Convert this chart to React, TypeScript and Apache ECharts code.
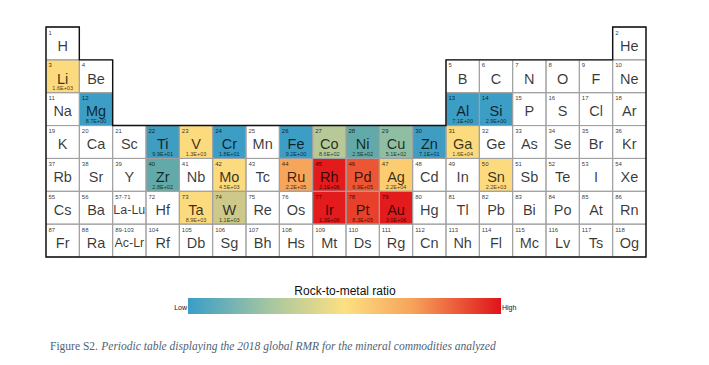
import React, { useEffect, useRef } from 'react';
import * as echarts from 'echarts';

// Periodic table layout (7 periods x 18 groups); '' = empty position
const tableSymbols: string[][] = [
  ['H', '', '', '', '', '', '', '', '', '', '', '', '', '', '', '', '', 'He'],
  ['Li', 'Be', '', '', '', '', '', '', '', '', '', '', 'B', 'C', 'N', 'O', 'F', 'Ne'],
  ['Na', 'Mg', '', '', '', '', '', '', '', '', '', '', 'Al', 'Si', 'P', 'S', 'Cl', 'Ar'],
  ['K', 'Ca', 'Sc', 'Ti', 'V', 'Cr', 'Mn', 'Fe', 'Co', 'Ni', 'Cu', 'Zn', 'Ga', 'Ge', 'As', 'Se', 'Br', 'Kr'],
  ['Rb', 'Sr', 'Y', 'Zr', 'Nb', 'Mo', 'Tc', 'Ru', 'Rh', 'Pd', 'Ag', 'Cd', 'In', 'Sn', 'Sb', 'Te', 'I', 'Xe'],
  ['Cs', 'Ba', 'La-Lu', 'Hf', 'Ta', 'W', 'Re', 'Os', 'Ir', 'Pt', 'Au', 'Hg', 'Tl', 'Pb', 'Bi', 'Po', 'At', 'Rn'],
  ['Fr', 'Ra', 'Ac-Lr', 'Rf', 'Db', 'Sg', 'Bh', 'Hs', 'Mt', 'Ds', 'Rg', 'Cn', 'Nh', 'Fl', 'Mc', 'Lv', 'Ts', 'Og'],
];

const tableNumbers: string[][] = [
  ['1', '', '', '', '', '', '', '', '', '', '', '', '', '', '', '', '', '2'],
  ['3', '4', '', '', '', '', '', '', '', '', '', '', '5', '6', '7', '8', '9', '10'],
  ['11', '12', '', '', '', '', '', '', '', '', '', '', '13', '14', '15', '16', '17', '18'],
  ['19', '20', '21', '22', '23', '24', '25', '26', '27', '28', '29', '30', '31', '32', '33', '34', '35', '36'],
  ['37', '38', '39', '40', '41', '42', '43', '44', '45', '46', '47', '48', '49', '50', '51', '52', '53', '54'],
  ['55', '56', '57-71', '72', '73', '74', '75', '76', '77', '78', '79', '80', '81', '82', '83', '84', '85', '86'],
  ['87', '88', '89-103', '104', '105', '106', '107', '108', '109', '110', '111', '112', '113', '114', '115', '116', '117', '118'],
];

// 2018 global rock-to-metal ratio (RMR)
const rmrElements = ['Li', 'Mg', 'Al', 'Si', 'Ti', 'V', 'Cr', 'Fe', 'Co', 'Ni', 'Cu', 'Zn', 'Ga', 'Zr', 'Mo', 'Ru', 'Rh', 'Pd', 'Ag', 'Sn', 'Ta', 'W', 'Ir', 'Pt', 'Au'];
const rmrValues = [1.6e3, 8.7e0, 7.1e0, 2.9e0, 9.9e1, 1.3e3, 1.8e1, 9.2e0, 8.6e2, 2.5e2, 5.1e2, 7.1e1, 1.6e4, 2.8e2, 4.5e3, 2.2e5, 2.1e6, 6.9e5, 2.2e4, 2.2e3, 8.9e3, 1.1e3, 1.3e6, 8.3e5, 3.0e6];

// colour scale on log10(RMR): break points and colours
const scaleBreaks = [1.5, 2.2, 2.6, 2.85, 3.0, 3.08, 4.3, 5.0, 5.6, 5.9, 6.0];
const scaleColors = ['#3c9dc5', '#3f9dc1', '#62aaa9', '#8fbea2', '#b7c996', '#ccc98a', '#fcda7e', '#fccd70', '#f6a55a', '#ec5634', '#e9402c', '#e31b1c'];

const legendStops = ['#3b9dc8', '#a9c7a0', '#fde082', '#f6a259', '#e0131a'];
const legendOffsets = [0, 0.27, 0.5, 0.72, 1];

// table outline (in grid units: group, period)
const outline: number[][] = [[0, 0], [1, 0], [1, 1], [2, 1], [2, 3], [12, 3], [12, 1], [17, 1], [17, 0], [18, 0], [18, 7], [0, 7]];

function fmtExp(v: number): string {
  const [m, e] = v.toExponential(1).split('e');
  const sign = e[0] === '-' ? '-' : '+';
  const digits = e.replace(/[+-]/, '').padStart(2, '0');
  return `${m}E${sign}${digits}`;
}

export default function App() {
  const ref = useRef<HTMLDivElement>(null);
  useEffect(() => {
    if (!ref.current) return;
    const chart = echarts.init(ref.current, undefined, { renderer: 'svg' });

    const cells: { col: number; row: number; sym: string; num: string; val: number | null }[] = [];
    tableSymbols.forEach((rowArr, r) => {
      rowArr.forEach((sym, c) => {
        if (!sym) return;
        const idx = rmrElements.indexOf(sym);
        cells.push({ col: c, row: r, sym, num: tableNumbers[r][c], val: idx >= 0 ? rmrValues[idx] : null });
      });
    });
    const colored = cells.filter((d) => d.val !== null);

    const pieces: any[] = scaleColors.map((color, i) => {
      const p: any = { color };
      if (i > 0) p.gte = scaleBreaks[i - 1];
      if (i < scaleBreaks.length) p.lt = scaleBreaks[i];
      return p;
    });

    const font = '"Liberation Sans", Arial, sans-serif';
    const serif = '"Liberation Serif", "Times New Roman", serif';

    chart.setOption({
      animation: false,
      grid: { left: 46, top: 27, width: 600, height: 230 },
      xAxis: { type: 'value', min: 0, max: 18, show: false },
      yAxis: { type: 'value', min: 0, max: 7, inverse: true, show: false },
      visualMap: {
        type: 'piecewise',
        show: false,
        seriesIndex: 0,
        dimension: 2,
        pieces,
      },
      series: [
        {
          type: 'custom',
          silent: true,
          data: colored.map((d) => [d.col, d.row, Math.log10(d.val as number)]),
          renderItem: (params: any, api: any) => {
            const c = api.value(0);
            const r = api.value(1);
            const p0 = api.coord([c, r]);
            const p1 = api.coord([c + 1, r + 1]);
            return {
              type: 'rect',
              shape: { x: p0[0], y: p0[1], width: p1[0] - p0[0], height: p1[1] - p0[1] },
              style: { fill: api.visual('color'), stroke: 'none' },
            };
          },
        },
        {
          type: 'custom',
          silent: true,
          data: cells.map((d) => [d.col, d.row]),
          renderItem: (params: any, api: any) => {
            const d = cells[params.dataIndex];
            const c = api.value(0);
            const r = api.value(1);
            const p0 = api.coord([c, r]);
            const p1 = api.coord([c + 1, r + 1]);
            const w = p1[0] - p0[0];
            const h = p1[1] - p0[1];
            const children: any[] = [
              {
                type: 'rect',
                shape: { x: p0[0], y: p0[1], width: w, height: h },
                style: { fill: 'none', stroke: '#a0a0a0', lineWidth: 1 },
              },
              {
                type: 'text',
                x: p0[0] + 2.5,
                y: p0[1] + 2.5,
                style: { text: d.num, fontSize: 6, fontFamily: font, fill: 'rgba(0,0,0,0.8)', align: 'left', verticalAlign: 'top' },
              },
              {
                type: 'text',
                x: p0[0] + w / 2,
                y: p0[1] + h * 0.57,
                style: {
                  text: d.sym,
                  fontSize: d.sym.length > 2 ? 12.5 : 14.5,
                  fontFamily: font,
                  fill: 'rgba(0,0,0,0.78)',
                  align: 'center',
                  verticalAlign: 'middle',
                },
              },
            ];
            if (d.val !== null) {
              children.push({
                type: 'text',
                x: p0[0] + w / 2,
                y: p0[1] + h - 4.5,
                style: { text: fmtExp(d.val), fontSize: 5.5, fontFamily: font, fill: 'rgba(0,0,0,0.75)', align: 'center', verticalAlign: 'middle' },
              });
            }
            return { type: 'group', children };
          },
        },
        {
          type: 'custom',
          silent: true,
          data: [[0, 0]],
          renderItem: (params: any, api: any) => ({
            type: 'polygon',
            shape: { points: outline.map((p) => api.coord(p)) },
            style: { fill: 'none', stroke: '#111', lineWidth: 1.4 },
          }),
        },
      ],
      graphic: [
        {
          type: 'text',
          x: 345,
          y: 291,
          style: { text: 'Rock-to-metal ratio', fontSize: 12, fontFamily: font, fill: '#111', align: 'center', verticalAlign: 'middle' },
        },
        {
          type: 'rect',
          shape: { x: 188, y: 298, width: 313, height: 16 },
          style: {
            fill: new echarts.graphic.LinearGradient(
              0, 0, 1, 0,
              legendStops.map((color, i) => ({ offset: legendOffsets[i], color }))
            ),
          },
        },
        {
          type: 'text',
          x: 187,
          y: 307.5,
          style: { text: 'Low', fontSize: 7, fontFamily: font, fill: '#111', align: 'right', verticalAlign: 'middle' },
        },
        {
          type: 'text',
          x: 502,
          y: 307.5,
          style: { text: 'High', fontSize: 7, fontFamily: font, fill: '#111', align: 'left', verticalAlign: 'middle' },
        },
        {
          type: 'text',
          x: 50,
          y: 346,
          style: {
            text: '{n|Figure S2.} {i|Periodic table displaying the 2018 global RMR for the mineral commodities analyzed}',
            verticalAlign: 'middle',
            rich: {
              n: { fontSize: 11.5, fontFamily: serif, fill: '#4f5f76' },
              i: { fontSize: 11.5, fontStyle: 'italic', fontFamily: serif, fill: '#4f5f76' },
            },
          },
        },
      ],
    });
    return () => chart.dispose();
  }, []);
  return <div ref={ref} style={{ position: 'fixed', left: 0, top: 0, width: 709, height: 365, background: '#fff' }} />;
}
